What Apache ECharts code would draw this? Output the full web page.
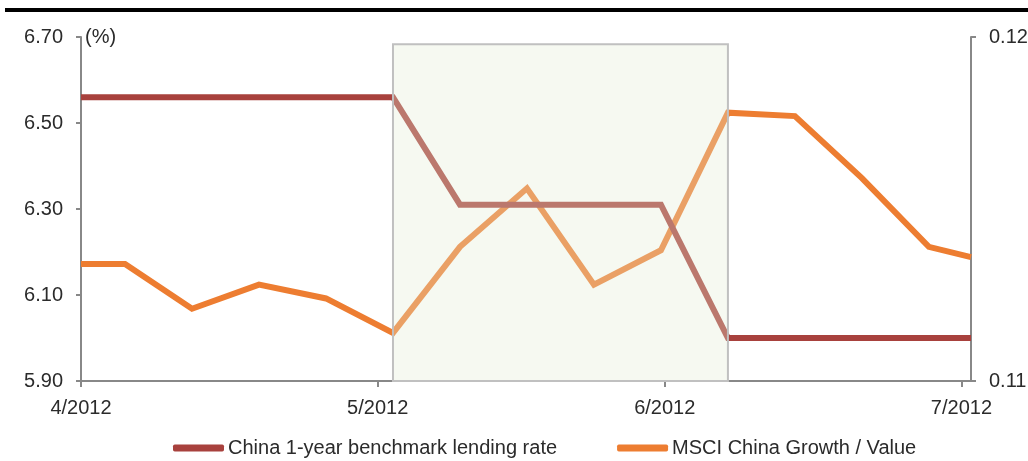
<!DOCTYPE html>
<html>
<head>
<meta charset="utf-8">
<script src="https://cdn.jsdelivr.net/npm/echarts@6/dist/echarts.min.js"></script>
<style>
  html, body { margin: 0; padding: 0; background: #ffffff; }
  #chart { width: 1028px; height: 461px; }
</style>
</head>
<body>
<div id="chart"></div>
<script>
// Weekly observation positions, in days along the time axis
const weekPos = [0, 4.6, 11.6, 18.6, 25.6, 32.6, 39.6, 46.6, 53.6, 60.6, 67.6, 74.6, 81.6, 88.6, 93];
// China 1-year benchmark lending rate (%), left axis
const lendingRate = [6.56, 6.56, 6.56, 6.56, 6.56, 6.56, 6.31, 6.31, 6.31, 6.31, 6.00, 6.00, 6.00, 6.00, 6.00];
// MSCI China Growth / Value ratio, right axis
const growthValue = [0.1134, 0.1134, 0.1121, 0.1128, 0.1124, 0.1114, 0.1139, 0.1156, 0.1128, 0.1138, 0.1178, 0.1177, 0.1159, 0.1139, 0.1136];
// Month tick positions and their labels
const monthPos = [0, 31, 61, 92];
const monthLabels = ['4/2012', '5/2012', '6/2012', '7/2012'];
// Highlighted period: [start, end] on the time axis, and its top on the left axis
const windowSpan = [32.6, 67.6];
const windowTop = 6.683;

const FONT = '"Liberation Sans", Arial, sans-serif';
const TEXT = '#2b2b2b';
const AXIS = '#888888';

const pairs = (ys) => weekPos.map((x, i) => [x, ys[i]]);

const chart = echarts.init(document.getElementById('chart'), null, { renderer: 'canvas' });
chart.setOption({
  animation: false,
  backgroundColor: '#ffffff',
  textStyle: { fontFamily: FONT },
  graphic: [{
    type: 'rect',
    shape: { x: 5, y: 8, width: 1023, height: 4 },
    style: { fill: '#000000' }
  }],
  grid: { left: 81, right: 57, top: 37, bottom: 80, outerBoundsMode: 'none', containLabel: false },
  legend: {
    data: ['China 1-year benchmark lending rate', 'MSCI China Growth / Value'],
    left: 168,
    top: 433,
    icon: 'roundRect',
    itemWidth: 51,
    itemHeight: 7,
    itemGap: 60,
    textStyle: { fontFamily: FONT, fontSize: 20, color: TEXT, padding: [0, 0, 0, -1] }
  },
  xAxis: {
    type: 'value',
    min: 0,
    max: 93,
    axisLine: { show: true, lineStyle: { color: AXIS, width: 2 } },
    axisTick: { show: true, customValues: monthPos, length: 6, inside: false, lineStyle: { color: AXIS, width: 2 } },
    axisLabel: {
      customValues: monthPos,
      margin: 17,
      fontFamily: FONT, fontSize: 20, color: TEXT,
      formatter: (v) => { const i = monthPos.indexOf(v); return i >= 0 ? monthLabels[i] : ''; }
    },
    splitLine: { show: false }
  },
  yAxis: [{
    type: 'value',
    position: 'left',
    min: 5.9,
    max: 6.7,
    interval: 0.2,
    name: '(%)',
    nameLocation: 'end',
    nameGap: 0,
    nameTextStyle: { fontFamily: FONT, fontSize: 20, color: TEXT, align: 'left', verticalAlign: 'middle', padding: [0, 0, 0, 4] },
    axisLine: { show: true, lineStyle: { color: AXIS, width: 2 } },
    axisTick: { show: true, length: 5, lineStyle: { color: AXIS, width: 2 } },
    axisLabel: { margin: 18, fontFamily: FONT, fontSize: 20, color: TEXT, formatter: (v) => v.toFixed(2) },
    splitLine: { show: false }
  }, {
    type: 'value',
    position: 'right',
    min: 0.11,
    max: 0.12,
    interval: 0.01,
    axisLine: { show: true, lineStyle: { color: AXIS, width: 2 } },
    axisTick: { show: true, length: 5, lineStyle: { color: AXIS, width: 2 } },
    axisLabel: { margin: 18, fontFamily: FONT, fontSize: 20, color: TEXT, formatter: (v) => v.toFixed(2) },
    splitLine: { show: false }
  }],
  series: [{
    name: 'China 1-year benchmark lending rate',
    type: 'line',
    yAxisIndex: 0,
    data: pairs(lendingRate),
    showSymbol: false,
    symbol: 'none',
    z: 3,
    color: '#a8413d',
    lineStyle: { color: '#a8413d', width: 6, join: 'miter', cap: 'butt' }
  }, {
    name: 'MSCI China Growth / Value',
    type: 'line',
    yAxisIndex: 1,
    data: pairs(growthValue),
    showSymbol: false,
    symbol: 'none',
    z: 2,
    color: '#ed7d31',
    lineStyle: { color: '#ed7d31', width: 6, join: 'miter', cap: 'butt' }
  }, {
    name: 'window',
    type: 'line',
    yAxisIndex: 0,
    data: [],
    silent: true,
    z: 10,
    markArea: {
      z: 10,
      silent: true,
      itemStyle: { color: 'rgba(226,236,210,0.32)', borderColor: '#c0c0c0', borderWidth: 2 },
      data: [[{ xAxis: windowSpan[0], yAxis: 5.9 }, { xAxis: windowSpan[1], yAxis: windowTop }]]
    }
  }]
});
</script>
</body>
</html>
